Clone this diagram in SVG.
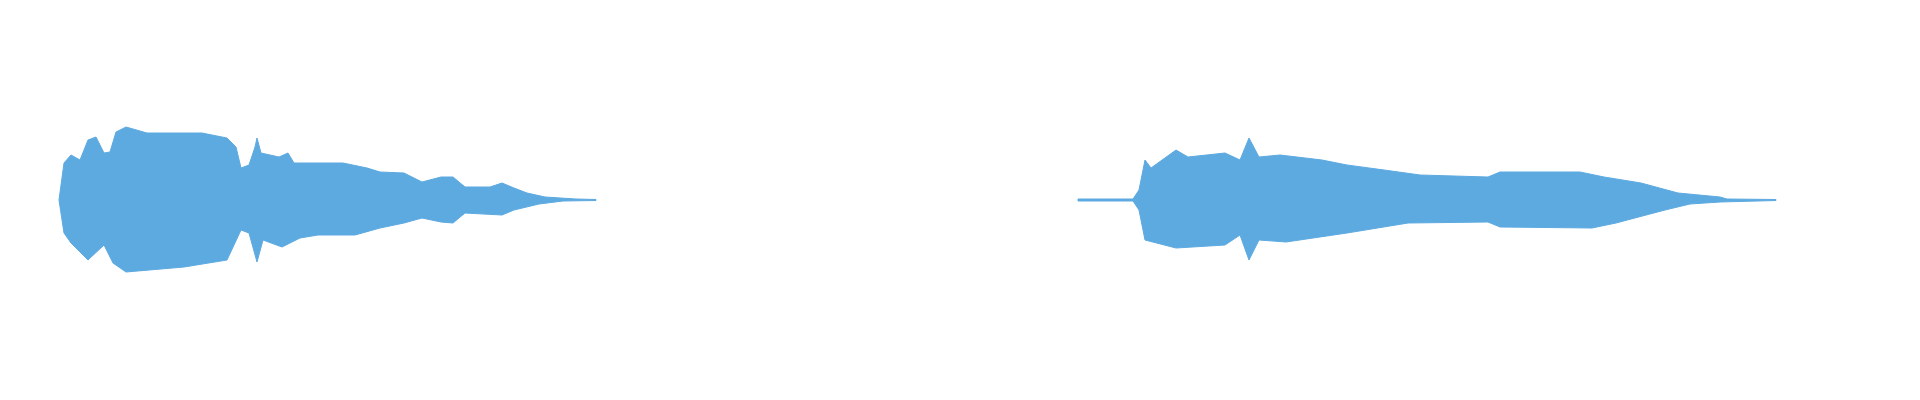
<svg xmlns="http://www.w3.org/2000/svg" width="1920" height="400" viewBox="0 0 1920 400">
<style>.w{fill:#5DAAE1;stroke:#5DAAE1;stroke-width:1;stroke-linejoin:round}</style>
<rect width="1920" height="400" fill="#fff"/>
<g id="wave1"><path class="w" d="M59,200 L64,163 L71,155 L80,160 L88,140 L96,137 L104,153 L110,152 L116,132 L126,127 L147,133 L184,133 L202,133 L227,138 L236,147 L241,168 L249,165 L255,147 L257,138 L261,153 L279,157 L288,153 L294,163 L343,163 L367,168 L380,172 L404,173 L422,182 L441,177 L453,177 L465,187 L490,187 L502,183 L514,188 L527,193 L545,197 L576,199 L596,199.5 L596,200.5 L563,201 L539,204 L514,210 L502,215 L465,213 L453,223 L441,222 L422,218 L404,223 L380,228 L355,235 L318,235 L300,238 L282,247 L263,240 L257,262 L249,233 L241,230 L227,260 L184,267 L126,272 L113,263 L104,245 L88,260 L71,243 L64,233 Z"/></g>
<g id="wave2"><path class="w" d="M1078,199 L1133,199 L1139,190 L1145,160 L1151,168 L1176,150 L1188,157 L1225,153 L1240,160 L1249,138 L1259,157 L1280,155 L1322,160 L1347,165 L1384,170 L1420,175 L1488,177 L1500,172 L1531,172 L1580,172 L1604,177 L1641,183 L1678,193 L1720,197 L1727,199 L1776,199.5 L1776,200.5 L1720,202 L1690,204 L1665,210 L1616,223 L1592,228 L1500,227 L1488,222 L1408,223 L1347,233 L1286,242 L1259,240 L1249,260 L1240,235 L1225,245 L1176,248 L1145,240 L1139,210 L1133,201 L1078,201 Z"/></g>
<g id="connectors"/>
</svg>
